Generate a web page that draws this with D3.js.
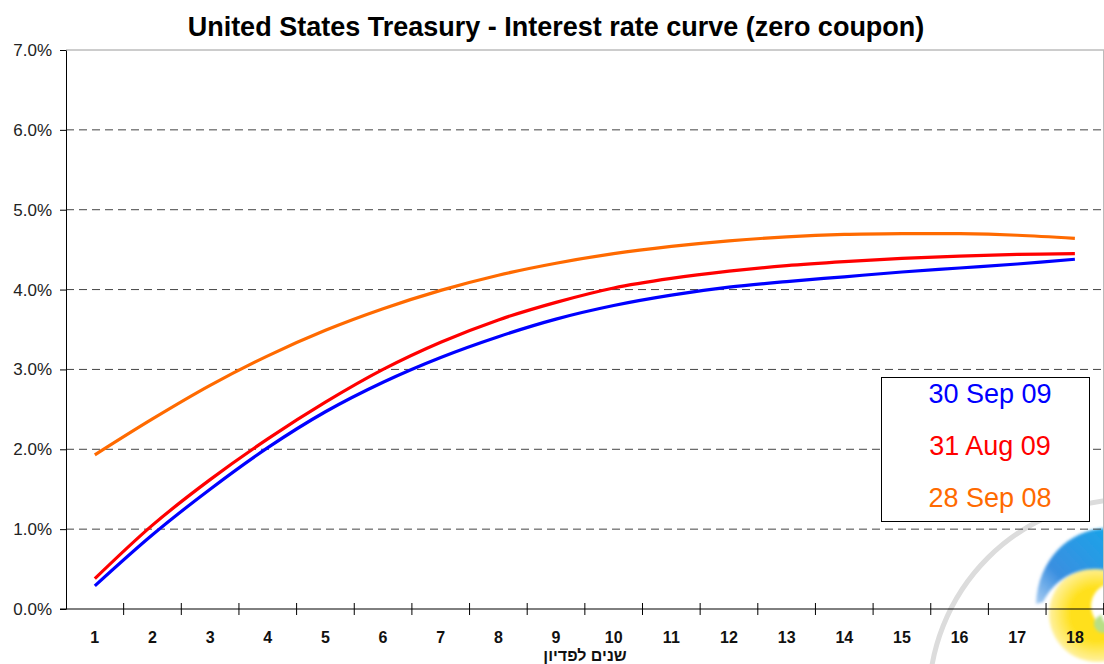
<!DOCTYPE html>
<html>
<head>
<meta charset="utf-8">
<script src="https://cdn.jsdelivr.net/npm/d3@7"></script>
<style>
  body { margin: 0; background: #fff; }
  svg { display: block; font-family: "Liberation Sans", Arial, sans-serif; }
</style>
</head>
<body>
<div id="chart"></div>
<script>
/**
 * DATA
 * */
const years = [1, 2, 3, 4, 5, 6, 7, 8, 9, 10, 11, 12, 13, 14, 15, 16, 17, 18];
const sep09 = [0.29, 0.93, 1.50, 2.02, 2.47, 2.84, 3.15, 3.41, 3.63, 3.80, 3.93, 4.03, 4.10, 4.16, 4.22, 4.27, 4.32, 4.38];
const aug09 = [0.38, 1.05, 1.62, 2.13, 2.59, 3.00, 3.34, 3.62, 3.84, 4.02, 4.14, 4.23, 4.30, 4.35, 4.39, 4.42, 4.44, 4.45];
const sep08 = [1.93, 2.38, 2.80, 3.17, 3.49, 3.76, 3.99, 4.18, 4.33, 4.45, 4.54, 4.61, 4.66, 4.69, 4.70, 4.70, 4.68, 4.64];
const seriesNames = ["30 Sep 09", "31 Aug 09", "28 Sep 08"];
const seriesColors = ["#0000ff", "#ff0000", "#ff6a00"];
const yTicks = [0, 1, 2, 3, 4, 5, 6, 7];

const width = 1104,
  height = 664,
  margin = { top: 50, bottom: 55, left: 66, right: 0 };

const svg = d3.select("#chart")
  .append("svg")
  .attr("width", width)
  .attr("height", height);

const x = d3.scaleBand()
  .domain(years)
  .range([margin.left, 1103.7]);

const y = d3.scaleLinear()
  .domain([0, 7])
  .range([height - margin.bottom, margin.top]);

// background logo (watermark)
const logo = svg.append("g").attr("class", "logo");
const defs = svg.append("defs");
defs.append("filter").attr("id", "soft")
  .append("feGaussianBlur").attr("stdDeviation", 1.5);
const blueGrad = defs.append("linearGradient").attr("id", "blueGrad")
  .attr("x1", "0").attr("x2", "1").attr("y1", "1").attr("y2", "0");
blueGrad.append("stop").attr("offset", "0").attr("stop-color", "#a9cdf2");
blueGrad.append("stop").attr("offset", "0.35").attr("stop-color", "#3a8fe0");
blueGrad.append("stop").attr("offset", "1").attr("stop-color", "#1aa3e8");
const yelGrad = defs.append("radialGradient").attr("id", "yelGrad");
yelGrad.append("stop").attr("offset", "0.55").attr("stop-color", "#ffe01a");
yelGrad.append("stop").attr("offset", "1").attr("stop-color", "#fff1a0");

logo.append("circle")
  .attr("cx", 1130).attr("cy", 700).attr("r", 201)
  .attr("fill", "none").attr("stroke", "#dcdcdc").attr("stroke-width", 5);

logo.append("circle")
  .attr("cx", 1097).attr("cy", 614).attr("r", 48)
  .attr("fill", "url(#yelGrad)").attr("filter", "url(#soft)");
logo.append("circle")
  .attr("cx", 1114).attr("cy", 606).attr("r", 23)
  .attr("fill", "#fff").attr("filter", "url(#soft)");
logo.append("circle")
  .attr("cx", 1103).attr("cy", 624).attr("r", 9)
  .attr("fill", "#b7df86").attr("filter", "url(#soft)");
logo.append("circle")
  .attr("cx", 1110).attr("cy", 616).attr("r", 8)
  .attr("fill", "#fff").attr("filter", "url(#soft)");

logo.append("path")
  .attr("fill", "url(#blueGrad)")
  .attr("filter", "url(#soft)")
  .attr("d", "M1036,604 C1038,560 1068,530 1106,528 L1106,570 C1080,565 1055,578 1043,602 Z");

// gridlines
svg.append("g")
  .selectAll("line")
  .data(yTicks.filter(d => d > 0))
  .join("line")
  .attr("x1", margin.left).attr("x2", width)
  .attr("y1", d => y(d)).attr("y2", d => y(d))
  .attr("stroke", d => d === 7 ? "#9a9a9a" : "#444")
  .attr("stroke-dasharray", d => d === 7 ? null : "8,5");

// right border
svg.append("line")
  .attr("x1", 1103.5).attr("x2", 1103.5)
  .attr("y1", y(7)).attr("y2", y(0))
  .attr("stroke", "#bbb");

// y axis
const yAxis = svg.append("g")
  .attr("transform", `translate(${margin.left},0)`)
  .call(d3.axisLeft(y)
    .tickValues(yTicks)
    .tickFormat(d => d.toFixed(1) + "%")
    .tickSize(6)
    .tickPadding(8)
    .tickSizeOuter(0));
yAxis.select(".domain").attr("stroke", "#000");
yAxis.selectAll("text")
  .attr("font-size", 17)
  .attr("font-family", "Liberation Sans, Arial, sans-serif")
  .attr("fill", "#222");

// x axis
const xAxis = svg.append("g")
  .attr("transform", `translate(0,${y(0)})`)
  .call(d3.axisBottom(x).tickSize(0).tickPadding(22.5));
xAxis.select(".domain").remove();
xAxis.selectAll("text")
  .attr("font-size", 16)
  .attr("font-weight", "bold")
  .attr("font-family", "Liberation Sans, Arial, sans-serif")
  .attr("fill", "#111");

svg.append("line")
  .attr("x1", margin.left - 6).attr("x2", width)
  .attr("y1", y(0)).attr("y2", y(0))
  .attr("stroke", "#000");

svg.append("g")
  .selectAll("line")
  .data(years)
  .join("line")
  .attr("x1", d => x(d) + x.bandwidth())
  .attr("x2", d => x(d) + x.bandwidth())
  .attr("y1", y(0) - 6).attr("y2", y(0) + 6)
  .attr("stroke", "#000");

// series
const series = [sep09, aug09, sep08];
const line = d3.line()
  .x((d, i) => x(years[i]) + x.bandwidth() / 2)
  .y(d => y(d))
  .curve(d3.curveCatmullRom.alpha(0.5));

svg.append("g")
  .selectAll("path")
  .data(series.slice().reverse())
  .join("path")
  .attr("d", line)
  .attr("fill", "none")
  .attr("stroke", (d, i) => seriesColors[series.length - 1 - i])
  .attr("stroke-width", 3.2);

// title
svg.append("text")
  .attr("x", 556).attr("y", 36)
  .attr("text-anchor", "middle")
  .attr("font-size", 27)
  .attr("font-weight", "bold")
  .attr("fill", "#000")
  .text("United States Treasury - Interest rate curve (zero coupon)");

// x axis title
svg.append("text")
  .attr("x", 585).attr("y", 661)
  .attr("text-anchor", "middle")
  .attr("font-size", 16)
  .attr("font-weight", "bold")
  .attr("fill", "#111")
  .text("שנים לפדיון");

// legend
const legend = svg.append("g");
legend.append("rect")
  .attr("x", 881.5).attr("y", 377.5)
  .attr("width", 208).attr("height", 144)
  .attr("fill", "#fff").attr("stroke", "#000");
legend.selectAll("text")
  .data(seriesNames)
  .join("text")
  .attr("x", 990)
  .attr("y", (d, i) => 403 + i * 52)
  .attr("text-anchor", "middle")
  .attr("font-size", 27)
  .attr("fill", (d, i) => seriesColors[i])
  .text(d => d);
</script>
</body>
</html>
